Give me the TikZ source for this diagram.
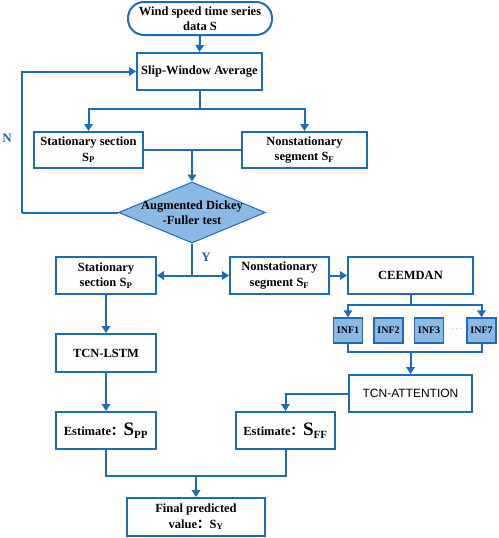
\documentclass[tikz,border=0pt]{standalone}
\usepackage{fontspec}
\setmainfont{Liberation Serif}
\setsansfont{Liberation Sans}
\newfontfamily\cjk{Noto Sans CJK SC}
\usetikzlibrary{arrows.meta,shapes.geometric,calc}
\definecolor{lnblue}{RGB}{28,108,190}
\definecolor{fillblue}{RGB}{138,186,228}
\newcommand{\colonfw}{{\cjk\bfseries ：}}
\tikzset{
  x=1pt, y=1pt,
  box/.style={draw=lnblue, line width=2pt, fill=white, inner sep=1pt, align=center,
    font=\fontsize{12.5}{15.5}\selectfont\bfseries},
  infbox/.style={draw=lnblue, line width=1.5pt, fill=fillblue, inner sep=0pt,
    minimum width=29pt, minimum height=25pt, font=\fontsize{10}{12}\selectfont\bfseries},
  conn/.style={draw=lnblue, line width=2pt},
  arr/.style={conn, -{Triangle[length=7pt,width=8.5pt]}},
  lbl/.style={text=lnblue, font=\fontsize{13}{15}\selectfont\bfseries}
}
\begin{document}
\begin{tikzpicture}
\useasboundingbox (0,0) rectangle (498,-538);
% nodes
\node[box, rounded corners=16pt, minimum width=144pt, minimum height=33pt] (start) at (200,-18.5) {Wind speed time series\\data S};
\node[box, minimum width=125pt, minimum height=37pt] (slip) at (199.5,-71.5) {Slip-Window Average};
\node[box, minimum width=109pt, minimum height=36pt] (st1) at (88.5,-150) {Stationary section\\S\textsubscript{P}};
\node[box, minimum width=125pt, minimum height=36pt] (ns1) at (304.5,-150) {Nonstationary\\segment S\textsubscript{F}};
\node[diamond, draw=lnblue, line width=1pt, fill=fillblue, inner sep=0pt, minimum width=147pt, minimum height=61pt] (adf) at (192,-212.5) {};
\node[align=center, font=\fontsize{12.5}{15.5}\selectfont\bfseries] (adft) at (adf) {Augmented Dickey\\-Fuller test};
\node[box, minimum width=100pt, minimum height=37pt] (st2) at (106,-275.5) {Stationary\\section S\textsubscript{P}};
\node[box, minimum width=99pt, minimum height=37pt] (ns2) at (279.5,-275.5) {Nonstationary\\segment S\textsubscript{F}};
\node[box, minimum width=125pt, minimum height=37pt] (ceem) at (410.5,-275.5) {CEEMDAN};
\node[infbox] (inf1) at (348,-330.5) {INF1};
\node[infbox] (inf2) at (388.5,-330.5) {INF2};
\node[infbox] (inf3) at (429,-330.5) {INF3};
\node[infbox] (inf7) at (481.5,-330.5) {INF7};
\node[text=lnblue, font=\fontsize{9}{10}\selectfont] (dots) at (457,-329) {$\cdots$};
\node[box, minimum width=123pt, minimum height=37pt, font=\fontsize{12}{14}\sffamily] (tcna) at (410.5,-393.5) {TCN-ATTENTION};
\node[box, minimum width=100pt, minimum height=38pt] (lstm) at (106,-353) {TCN-LSTM};
\node[box, minimum width=100pt, minimum height=37pt] (spp) at (106,-430.5) {Estimate\colonfw{\fontsize{19}{20}\selectfont S}\textsubscript{\fontsize{11}{12}\selectfont PP}};
\node[box, minimum width=99pt, minimum height=37pt] (sff) at (285.5,-430.5) {Estimate\colonfw{\fontsize{19}{20}\selectfont S}\textsubscript{\fontsize{11}{12}\selectfont FF}};
\node[box, minimum width=138pt, minimum height=38pt] (final) at (196,-517) {Final predicted\\value\colonfw S\textsubscript{Y}};
\node[lbl] (nlab) at (7,-138) {N};
\node[lbl] (ylab) at (206,-257) {Y};
% coordinates
\coordinate (split1) at ($(slip.south)+(0,-18)$);
\coordinate (mid1) at (adf.north |- st1.east);
\coordinate (nl) at (22,-212.5);
\coordinate (ysplit) at (adf.south |- st2.east);
\coordinate (csplit) at ($(ceem.south)+(0,-10)$);
\coordinate (ijoin) at (ceem.south |- 0,-352);
\coordinate (ejoin) at (final.north |- 0,-476);
\coordinate (ejl) at (spp.south |- ejoin);
\coordinate (ejr) at (sff.south |- ejoin);
% connectors
\draw[arr] (start.south) -- (slip.north);
\draw[conn] (slip.south) -- (split1);
\draw[arr] (split1) -| (st1.north);
\draw[arr] (split1) -| (ns1.north);
\draw[conn] (st1.east) -- (ns1.west);
\draw[arr] (mid1) -- (adf.north);
\draw[conn] (adf.west) -- (nl);
\draw[arr] (nl) |- (slip.west);
\draw[conn] (adf.south) -- (ysplit);
\draw[arr] (ysplit) -- (st2.east);
\draw[arr] (ysplit) -- (ns2.west);
\draw[arr] (ns2.east) -- (ceem.west);
\draw[conn] (ceem.south) -- (csplit);
\draw[arr] (csplit) -| (inf1.north);
\draw[arr] (csplit) -| (inf7.north);
\draw[conn] (inf1.south) |- (ijoin) -| (inf7.south);
\draw[arr] (ijoin) -- (tcna.north);
\draw[arr] (tcna.west) -| (sff.north);
\draw[arr] (st2.south) -- (lstm.north);
\draw[arr] (lstm.south) -- (spp.north);
\draw[conn] (spp.south) -- (ejl) -- (ejr) -- (sff.south);
\draw[arr] (ejoin) -- (final.north);
\end{tikzpicture}
\end{document}
